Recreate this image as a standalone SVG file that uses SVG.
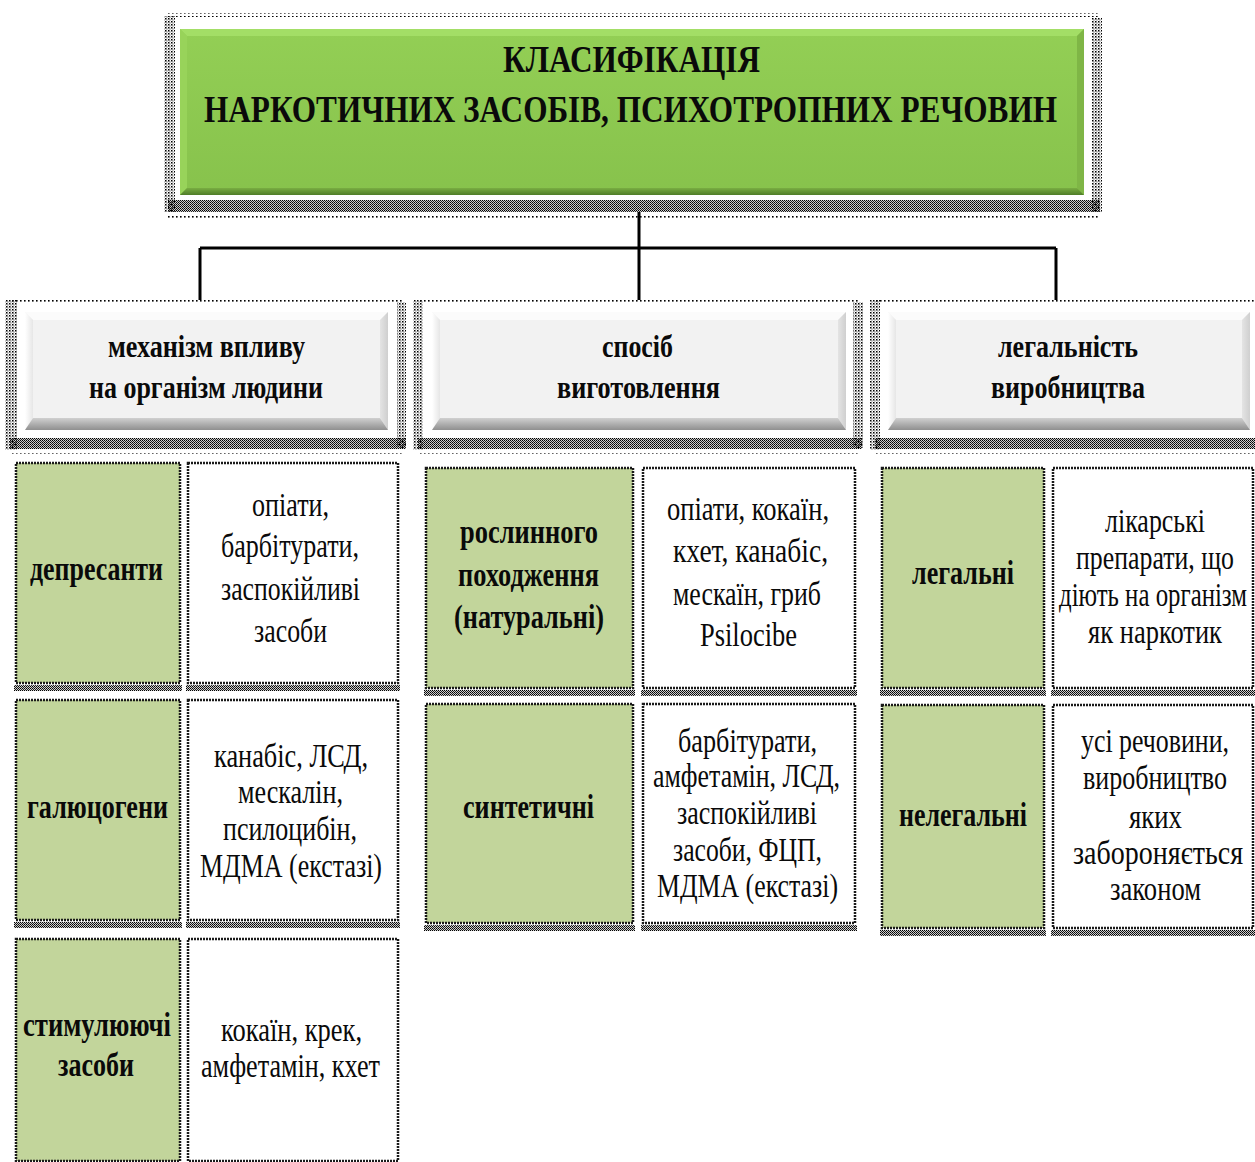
<svg xmlns="http://www.w3.org/2000/svg" width="1255" height="1162" viewBox="0 0 1255 1162">
<defs>
<pattern id="dl" width="4" height="4" patternUnits="userSpaceOnUse"><rect width="1.6" height="1.6" fill="#000"/></pattern>
<pattern id="dm" width="3" height="3" patternUnits="userSpaceOnUse"><rect width="1.5" height="1.5" fill="#000"/><rect x="1.5" y="1.5" width="1" height="1" fill="#333"/></pattern>
<pattern id="dh" width="2" height="2" patternUnits="userSpaceOnUse"><rect width="1.2" height="1.2" fill="#000"/><rect x="1" y="1" width="1" height="1" fill="#222"/></pattern>
<linearGradient id="gTitle" x1="0" y1="0" x2="0" y2="1"><stop offset="0" stop-color="#93cf55"/><stop offset="1" stop-color="#87c24c"/></linearGradient>
<linearGradient id="gBotG" x1="0" y1="0" x2="0" y2="1"><stop offset="0" stop-color="#79ad42"/><stop offset="1" stop-color="#4f7d28"/></linearGradient>
<linearGradient id="gBot" x1="0" y1="0" x2="0" y2="1"><stop offset="0" stop-color="#d0d0d0"/><stop offset="1" stop-color="#8f8f8f"/></linearGradient>
<linearGradient id="gRight" x1="0" y1="0" x2="1" y2="0"><stop offset="0" stop-color="#e4e4e4"/><stop offset="1" stop-color="#cfcfcf"/></linearGradient>
<linearGradient id="gLeft" x1="0" y1="0" x2="1" y2="0"><stop offset="0" stop-color="#ffffff"/><stop offset="1" stop-color="#e6e6e6"/></linearGradient>
</defs>
<style>
.t{font-family:"Liberation Serif","Times New Roman",serif;fill:#0a0a0a;text-anchor:middle}
.tb{font-weight:bold}
.title{font-size:38px}
.hd{font-size:32px}
.cb{font-size:34px}
.cr{font-size:34px}
.cs{font-size:24px}
.green{fill:#c2d59b}
.white{fill:#ffffff}
.cell{stroke:#1a1a1a;stroke-width:2.5;stroke-dasharray:2 1}
.conn{stroke:#000;stroke-width:3;fill:none}
</style>
<rect width="1255" height="1162" fill="#fff"/>

<g id="title">
<rect x="168" y="13" width="932" height="4" fill="url(#dl)"/>
<rect x="164" y="16" width="11" height="196" fill="url(#dm)"/>
<rect x="1092" y="18" width="10" height="194" fill="url(#dm)"/>
<rect x="168" y="200" width="932" height="12" fill="url(#dh)"/>
<rect x="168" y="215" width="932" height="3" fill="url(#dl)"/>
<rect x="180" y="29" width="904" height="166" fill="url(#gTitle)"/>
<polygon points="180,29 1084,29 1077,36 187,36" fill="#a3de66"/>
<polygon points="180,29 187,36 187,188 180,195" fill="#98d35a"/>
<polygon points="1084,29 1084,195 1077,188 1077,36" fill="#7fb646"/>
<polygon points="180,195 187,188 1077,188 1084,195" fill="url(#gBotG)"/>
<text class="t tb title" x="631.5" y="72" textLength="257" lengthAdjust="spacingAndGlyphs">КЛАСИФІКАЦІЯ</text>
<text class="t tb title" x="630.5" y="122" textLength="853" lengthAdjust="spacingAndGlyphs">НАРКОТИЧНИХ ЗАСОБІВ, ПСИХОТРОПНИХ РЕЧОВИН</text>
</g>

<g id="connectors">
<path class="conn" d="M639 212 V300 M200 248 H1056 M200 248 V300 M1056 248 V300"/>
</g>

<g id="header-mechanism">
<rect x="10" y="298" width="392" height="4" fill="url(#dl)"/>
<rect x="5" y="300" width="12" height="150" fill="url(#dm)"/>
<rect x="397" y="302" width="9" height="146" fill="url(#dm)"/>
<rect x="10" y="438" width="396" height="11" fill="url(#dh)"/>
<rect x="10" y="453" width="392" height="3" fill="url(#dl)"/>
<rect x="25" y="312" width="363" height="118" fill="#f2f2f2"/>
<polygon points="25,312 388,312 380,320 33,320" fill="#fbfbfb"/>
<polygon points="25,312 33,320 33,418 25,430" fill="url(#gLeft)"/>
<polygon points="388,312 388,430 380,418 380,320" fill="url(#gRight)"/>
<polygon points="25,430 33,418 380,418 388,430" fill="url(#gBot)"/>
<text class="t tb hd" x="206.5" y="357" textLength="197" lengthAdjust="spacingAndGlyphs">механізм впливу</text>
<text class="t tb hd" x="206" y="398" textLength="234" lengthAdjust="spacingAndGlyphs">на організм людини</text>
</g>

<g id="header-method">
<rect x="418" y="298" width="440" height="4" fill="url(#dl)"/>
<rect x="413" y="300" width="10" height="150" fill="url(#dm)"/>
<rect x="853" y="302" width="10" height="146" fill="url(#dm)"/>
<rect x="418" y="438" width="444" height="11" fill="url(#dh)"/>
<rect x="418" y="453" width="440" height="3" fill="url(#dl)"/>
<rect x="432" y="312" width="414" height="118" fill="#f2f2f2"/>
<polygon points="432,312 846,312 838,320 440,320" fill="#fbfbfb"/>
<polygon points="432,312 440,320 440,418 432,430" fill="url(#gLeft)"/>
<polygon points="846,312 846,430 838,418 838,320" fill="url(#gRight)"/>
<polygon points="432,430 440,418 838,418 846,430" fill="url(#gBot)"/>
<text class="t tb hd" x="637.5" y="357" textLength="71" lengthAdjust="spacingAndGlyphs">спосіб</text>
<text class="t tb hd" x="638.5" y="398" textLength="163" lengthAdjust="spacingAndGlyphs">виготовлення</text>
</g>

<g id="header-legality">
<rect x="875" y="298" width="380" height="4" fill="url(#dl)"/>
<rect x="870" y="300" width="10" height="150" fill="url(#dm)"/>
<rect x="875" y="438" width="380" height="11" fill="url(#dh)"/>
<rect x="875" y="453" width="380" height="3" fill="url(#dl)"/>
<rect x="888" y="312" width="362" height="118" fill="#f2f2f2"/>
<polygon points="888,312 1250,312 1242,320 896,320" fill="#fbfbfb"/>
<polygon points="888,312 896,320 896,418 888,430" fill="url(#gLeft)"/>
<polygon points="1250,312 1250,430 1242,418 1242,320" fill="url(#gRight)"/>
<polygon points="888,430 896,418 1242,418 1250,430" fill="url(#gBot)"/>
<text class="t tb hd" x="1068" y="357" textLength="140" lengthAdjust="spacingAndGlyphs">легальність</text>
<text class="t tb hd" x="1068" y="398" textLength="154" lengthAdjust="spacingAndGlyphs">виробництва</text>
</g>

<g id="cell-depresanty">
<rect x="14" y="685" width="168" height="6" fill="url(#dh)"/>
<rect class="cell green" x="16" y="463" width="164" height="220"/>
<text class="t tb cb" x="96.5" y="580" textLength="133" lengthAdjust="spacingAndGlyphs">депресанти</text>
</g>
<g id="cell-depresanty-list">
<rect x="186" y="685" width="214" height="6" fill="url(#dh)"/>
<rect class="cell white" x="188" y="463" width="210" height="220"/>
<text class="t cr" x="290.5" y="516" textLength="77" lengthAdjust="spacingAndGlyphs">опіати,</text>
<text class="t cr" x="290" y="557" textLength="138" lengthAdjust="spacingAndGlyphs">барбітурати,</text>
<text class="t cr" x="290.5" y="600" textLength="139" lengthAdjust="spacingAndGlyphs">заспокійливі</text>
<text class="t cr" x="290.5" y="642" textLength="73" lengthAdjust="spacingAndGlyphs">засоби</text>
</g>

<g id="cell-galucogeny">
<rect x="14" y="922" width="168" height="6" fill="url(#dh)"/>
<rect class="cell green" x="16" y="700" width="164" height="220"/>
<text class="t tb cb" x="97.5" y="818" textLength="141" lengthAdjust="spacingAndGlyphs">галюцогени</text>
</g>
<g id="cell-galucogeny-list">
<rect x="186" y="922" width="214" height="6" fill="url(#dh)"/>
<rect class="cell white" x="188" y="700" width="210" height="220"/>
<text class="t cr" x="291" y="767" textLength="154" lengthAdjust="spacingAndGlyphs">канабіс, ЛСД,</text>
<text class="t cr" x="290.5" y="803" textLength="105" lengthAdjust="spacingAndGlyphs">мескалін,</text>
<text class="t cr" x="290" y="840" textLength="134" lengthAdjust="spacingAndGlyphs">псилоцибін,</text>
<text class="t cr" x="291" y="877" textLength="182" lengthAdjust="spacingAndGlyphs">МДМА (екстазі)</text>
</g>

<g id="cell-stymulyuyuchi">
<rect class="cell green" x="16" y="939" width="164" height="222"/>
<text class="t tb cb" x="97" y="1036" textLength="148" lengthAdjust="spacingAndGlyphs">стимулюючі</text>
<text class="t tb cb" x="96" y="1076" textLength="76" lengthAdjust="spacingAndGlyphs">засоби</text>
</g>
<g id="cell-stymulyuyuchi-list">
<rect class="cell white" x="188" y="939" width="210" height="222"/>
<text class="t cr" x="291.5" y="1041" textLength="141" lengthAdjust="spacingAndGlyphs">кокаїн, крек,</text>
<text class="t cr" x="290.5" y="1077" textLength="179" lengthAdjust="spacingAndGlyphs">амфетамін, кхет</text>
</g>

<g id="cell-naturalni">
<rect x="424" y="690" width="211" height="6" fill="url(#dh)"/>
<rect class="cell green" x="426" y="468" width="207" height="220"/>
<text class="t tb cb" x="529" y="543" textLength="138" lengthAdjust="spacingAndGlyphs">рослинного</text>
<text class="t tb cb" x="528.5" y="586" textLength="141" lengthAdjust="spacingAndGlyphs">походження</text>
<text class="t tb cb" x="529" y="628" textLength="150" lengthAdjust="spacingAndGlyphs">(натуральні)</text>
</g>
<g id="cell-naturalni-list">
<rect x="641" y="690" width="216" height="6" fill="url(#dh)"/>
<rect class="cell white" x="643" y="468" width="212" height="220"/>
<text class="t cr" x="748" y="520" textLength="162" lengthAdjust="spacingAndGlyphs">опіати, кокаїн,</text>
<text class="t cr" x="750.5" y="562" textLength="155" lengthAdjust="spacingAndGlyphs">кхет,  канабіс,</text>
<text class="t cr" x="747" y="605" textLength="148" lengthAdjust="spacingAndGlyphs">мескаїн, гриб</text>
<text class="t cr" x="748.5" y="646" textLength="97" lengthAdjust="spacingAndGlyphs">Psilocibe</text>
</g>

<g id="cell-syntetychni">
<rect x="424" y="925" width="211" height="6" fill="url(#dh)"/>
<rect class="cell green" x="426" y="704" width="207" height="219"/>
<text class="t tb cb" x="528.5" y="818" textLength="131" lengthAdjust="spacingAndGlyphs">синтетичні</text>
</g>
<g id="cell-syntetychni-list">
<rect x="641" y="925" width="216" height="6" fill="url(#dh)"/>
<rect class="cell white" x="643" y="704" width="212" height="219"/>
<text class="t cr" x="747.5" y="752" textLength="139" lengthAdjust="spacingAndGlyphs">барбітурати,</text>
<text class="t cr" x="746.5" y="787" textLength="187" lengthAdjust="spacingAndGlyphs">амфетамін, ЛСД,</text>
<text class="t cr" x="747" y="824" textLength="140" lengthAdjust="spacingAndGlyphs">заспокійливі</text>
<text class="t cr" x="747.5" y="861" textLength="149" lengthAdjust="spacingAndGlyphs">засоби, ФЦП,</text>
<text class="t cr" x="747.5" y="897" textLength="181" lengthAdjust="spacingAndGlyphs">МДМА (екстазі)</text>
</g>

<g id="cell-legalni">
<rect x="880" y="690" width="166" height="6" fill="url(#dh)"/>
<rect class="cell green" x="882" y="468" width="162" height="220"/>
<text class="t tb cb" x="963" y="584" textLength="102" lengthAdjust="spacingAndGlyphs">легальні</text>
</g>
<g id="cell-legalni-list">
<rect x="1051" y="690" width="204" height="6" fill="url(#dh)"/>
<rect class="cell white" x="1053" y="468" width="200" height="220"/>
<text class="t cs" transform="translate(1155 532) scale(1 1.42)" textLength="100" lengthAdjust="spacingAndGlyphs">лікарські</text>
<text class="t cs" transform="translate(1155 569) scale(1 1.42)" textLength="158" lengthAdjust="spacingAndGlyphs">препарати, що</text>
<text class="t cs" transform="translate(1153 606) scale(1 1.42)" textLength="188" lengthAdjust="spacingAndGlyphs">діють на організм</text>
<text class="t cs" transform="translate(1155 643) scale(1 1.42)" textLength="134" lengthAdjust="spacingAndGlyphs">як наркотик</text>
</g>

<g id="cell-nelegalni">
<rect x="880" y="930" width="166" height="6" fill="url(#dh)"/>
<rect class="cell green" x="882" y="705" width="162" height="223"/>
<text class="t tb cb" x="963" y="826" textLength="128" lengthAdjust="spacingAndGlyphs">нелегальні</text>
</g>
<g id="cell-nelegalni-list">
<rect x="1051" y="930" width="204" height="6" fill="url(#dh)"/>
<rect class="cell white" x="1053" y="705" width="200" height="223"/>
<text class="t cs" transform="translate(1155 752) scale(1 1.42)" textLength="148" lengthAdjust="spacingAndGlyphs">усі речовини,</text>
<text class="t cs" transform="translate(1155 789) scale(1 1.42)" textLength="144" lengthAdjust="spacingAndGlyphs">виробництво</text>
<text class="t cs" transform="translate(1155.5 828) scale(1 1.42)" textLength="53" lengthAdjust="spacingAndGlyphs">яких</text>
<text class="t cs" transform="translate(1158 864) scale(1 1.42)" textLength="170" lengthAdjust="spacingAndGlyphs">забороняється</text>
<text class="t cs" transform="translate(1155.5 900) scale(1 1.42)" textLength="91" lengthAdjust="spacingAndGlyphs">законом</text>
</g>
</svg>
